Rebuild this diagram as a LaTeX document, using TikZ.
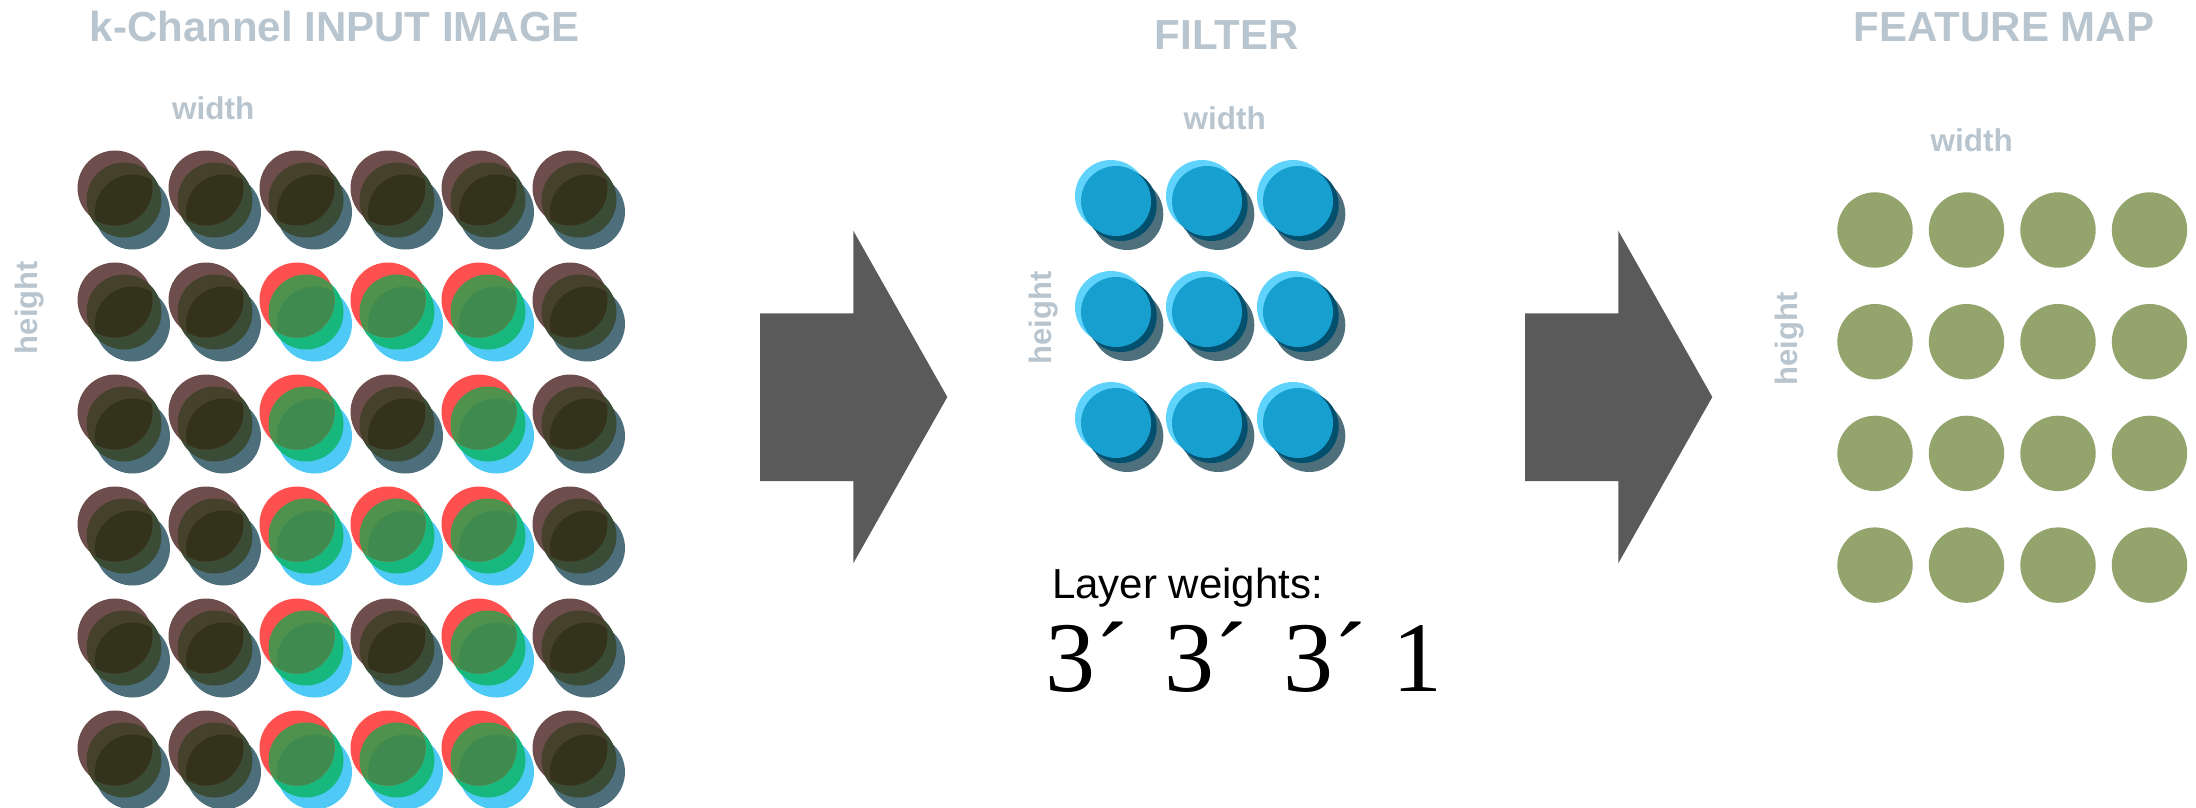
\documentclass[tikz,border=0pt]{standalone}
\usepackage{fontspec}
\setmainfont{Liberation Sans}
\newfontfamily\sansfont{Liberation Sans}
\newfontfamily\serifdigits{Liberation Serif}

% label and arrow colours
\definecolor{labelgray}{HTML}{B8C5CF}
\definecolor{arrowgray}{HTML}{5A5A5A}
% active channel cell: red / green / blue discs and their overlaps
\definecolor{Cr}{HTML}{FF5050}
\definecolor{Crg}{HTML}{4F924D}
\definecolor{Crgb}{HTML}{3E8A4F}
\definecolor{Cg}{HTML}{17B87D}
\definecolor{Cb}{HTML}{4FC9F5}
% inactive (dark) cell
\definecolor{Dr}{HTML}{6E4E4D}
\definecolor{Drg}{HTML}{45412A}
\definecolor{Drgb}{HTML}{33331B}
\definecolor{Dg}{HTML}{3A4B36}
\definecolor{Db}{HTML}{4D6F7B}
% filter discs
\definecolor{fltlight}{HTML}{5FD3FC}
\definecolor{fltmain}{HTML}{17A0CF}
\definecolor{fltnavy}{HTML}{02506E}
\definecolor{fltgray}{HTML}{4E707D}
% feature map discs
\definecolor{featgreen}{HTML}{93A46C}

% one input pixel: three stacked channel discs; #3 = palette prefix (C or D)
\newcommand\chcell[3]{%
  \fill[#3b] (#1+17.5,#2+24) circle[radius=37.5pt];
  \fill[#3g] (#1+9,#2+12) circle[radius=37.5pt];
  \fill[#3r] (#1,#2) circle[radius=37.5pt];
  \begin{scope}
    \clip (#1,#2) circle[radius=37.5pt];
    \fill[#3rg] (#1+9,#2+12) circle[radius=37.5pt];
    \clip (#1+9,#2+12) circle[radius=37.5pt];
    \fill[#3rgb] (#1+17.5,#2+24) circle[radius=37.5pt];
  \end{scope}}

% one filter weight: light rim, shadow discs, main disc on top
\newcommand\fltcell[2]{%
  \fill[fltlight] (#1,#2) circle[radius=36pt];
  \fill[fltgray] (#1+16.3,#2+18) circle[radius=36pt];
  \fill[fltnavy] (#1+9.7,#2+9) circle[radius=36pt];
  \fill[fltmain] (#1+5,#2+5) circle[radius=35pt];}

\begin{document}
\begin{tikzpicture}[x=1pt,y=-1pt,
  lbl/.style={inner sep=0pt, anchor=base, text=labelgray},
  paneltitle/.style={lbl, font=\sansfont\bfseries\fontsize{42}{48}\selectfont},
  axisname/.style={lbl, font=\sansfont\bfseries\fontsize{31.5}{36}\selectfont},
  axisup/.style={lbl, rotate=90, font=\sansfont\bfseries\fontsize{31}{36}\selectfont},
  blockarrow/.style={fill=arrowgray},
  weighttext/.style={inner sep=0pt, anchor=base west, text=black,
    font=\serifdigits\fontsize{100}{110}\selectfont},
]
\useasboundingbox (0,0) rectangle (2196,807);

% ---------- input image ----------
\node[paneltitle] (intitle) at (334.7,41.7) {k-Channel INPUT IMAGE};
\node[axisname] (inwidth) at (213.2,119.3) {width};
\node[axisup] (inheight) at (37,307.5) {height};

\foreach \row/\codes in {1/{0,0,0,0,0,0},2/{0,0,1,1,1,0},3/{0,0,1,0,1,0},
                         4/{0,0,1,1,1,0},5/{0,0,1,0,1,0},6/{0,0,1,1,1,0}}{
  \foreach \c [count=\col] in \codes {
    \pgfmathsetmacro\cx{115+(\col-1)*91}
    \pgfmathsetmacro\cy{188+(\row-1)*112}
    \ifnum\c=1 \chcell{\cx}{\cy}{C}\else\chcell{\cx}{\cy}{D}\fi
  }
}

% ---------- arrows ----------
\fill[blockarrow] (760,313.3) -- (853.3,313.3) -- (853.3,230.7) -- (947.3,397)
  -- (853.3,563.3) -- (853.3,481) -- (760,481) -- cycle;
\fill[blockarrow] (1525,313.3) -- (1618.3,313.3) -- (1618.3,230.7) -- (1712.3,397)
  -- (1618.3,563.3) -- (1618.3,481) -- (1525,481) -- cycle;

% ---------- filter ----------
\node[paneltitle] (flttitle) at (1226.8,49) {FILTER};
\node[axisname] (fltwidth) at (1224.7,129.3) {width};
\node[axisup] (fltheight) at (1051.5,317.8) {height};
\foreach \col in {0,1,2}{
  \foreach \row in {0,1,2}{
    \fltcell{1111+\col*91}{196+\row*111}
  }
}
\node[inner sep=0pt, anchor=base west, font=\sansfont\fontsize{42}{48}\selectfont]
  (wlabel) at (1052,598.3) {Layer weights:};
\node[weighttext] (w1) at (1045,691.7) {3´};
\node[weighttext] (w2) at (1164,691.7) {3´};
\node[weighttext] (w3) at (1283,691.7) {3´};
\node[weighttext] (w4) at (1392,691.7) {1};

% ---------- feature map ----------
\node[paneltitle] (feattitle) at (2004,41.7) {FEATURE MAP};
\node[axisname] (featwidth) at (1971.7,151.7) {width};
\node[axisup] (featheight) at (1797,339) {height};
\foreach \col in {0,1,2,3}{
  \foreach \row in {0,1,2,3}{
    \fill[featgreen] (1875+\col*91.5,230+\row*111.7) circle[radius=37.7pt];
  }
}
\end{tikzpicture}
\end{document}
